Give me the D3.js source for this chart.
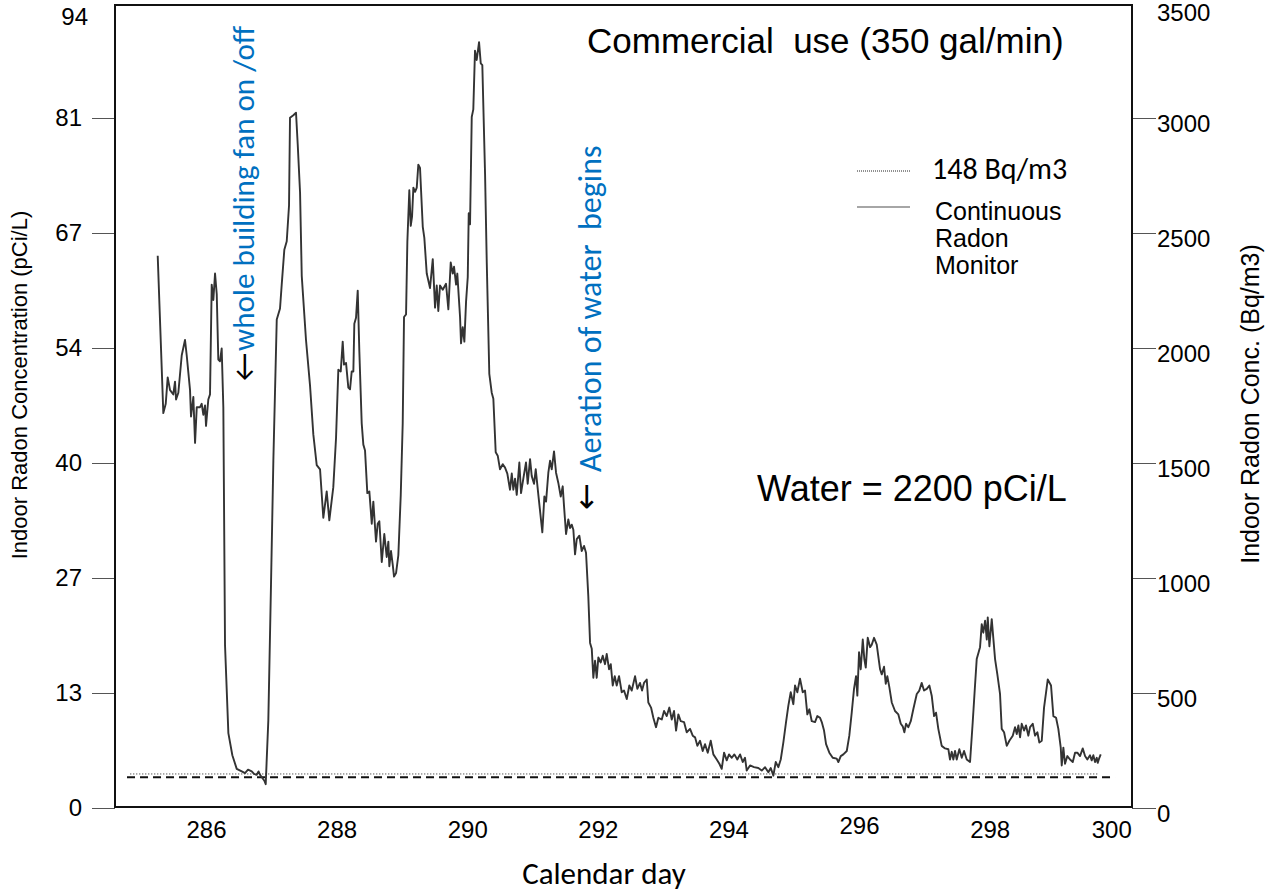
<!DOCTYPE html>
<html>
<head>
<meta charset="utf-8">
<script src="https://cdn.jsdelivr.net/npm/d3@7"></script>
<style>
  body { margin: 0; background: #fff; }
  svg { display: block; background: #fff; }
</style>
</head>
<body>
<svg id="chart" width="1265" height="893"></svg>
<script>
'use strict';

const xTickValues = [286, 288, 290, 292, 294, 296, 298, 300];
const bqTickValues = [0, 500, 1000, 1500, 2000, 2500, 3000, 3500];
const pciTickLabels = ['0', '13', '27', '40', '54', '67', '81', '94'];
const bqTickLabels = ['0', '500', '1000', '1500', '2000', '2500', '3000', '3500'];

// reference lines
const actionLevelBq = 148;
const actionLevelDays = [284.84, 299.66];
const backgroundPci = 3.6;
const backgroundDays = [284.79, 299.92];

// continuous radon monitor: [calendar day, pCi/L]
const crmSeries = [
  [285.260, 64.9], [285.346, 46.4], [285.383, 47.5], [285.413, 50.6], [285.449, 49.1],
  [285.499, 48.6], [285.525, 50.1], [285.541, 48.0], [285.576, 48.8], [285.628, 53.2],
  [285.678, 55.0], [285.704, 53.2], [285.755, 49.1], [285.770, 46.0], [285.806, 48.3],
  [285.832, 42.9], [285.858, 47.1], [285.908, 47.1], [285.934, 47.5], [285.959, 46.2],
  [285.985, 47.3], [286.000, 44.9], [286.035, 48.0], [286.061, 48.6], [286.087, 61.5],
  [286.112, 59.7], [286.138, 62.8], [286.164, 60.4], [286.188, 52.7], [286.214, 52.5],
  [286.240, 54.0], [286.265, 47.1], [286.291, 19.1], [286.342, 8.8], [286.403, 6.2],
  [286.470, 4.6], [286.547, 4.3], [286.597, 4.1], [286.643, 4.5], [286.700, 4.3],
  [286.735, 4.0], [286.776, 3.9], [286.804, 4.3], [286.827, 3.9], [286.893, 3.2],
  [286.914, 2.8], [286.954, 10.3], [286.995, 26.3], [287.031, 40.8], [287.083, 57.4],
  [287.133, 58.7], [287.159, 61.5], [287.199, 65.6], [287.236, 66.6], [287.271, 70.8],
  [287.286, 81.1], [287.337, 81.4], [287.378, 81.7], [287.404, 78.0], [287.440, 72.3],
  [287.466, 62.5], [287.531, 55.0], [287.593, 49.6], [287.643, 43.9], [287.695, 40.3],
  [287.746, 39.8], [287.796, 34.1], [287.848, 37.2], [287.888, 33.8], [287.949, 37.7],
  [287.991, 43.5], [288.026, 51.5], [288.063, 51.3], [288.093, 54.8], [288.113, 52.1],
  [288.144, 52.3], [288.179, 49.4], [288.205, 49.2], [288.231, 51.3], [288.256, 51.3],
  [288.271, 56.9], [288.297, 57.6], [288.323, 60.8], [288.348, 53.6], [288.384, 45.2],
  [288.409, 42.7], [288.435, 42.0], [288.470, 37.0], [288.501, 37.2], [288.538, 33.4],
  [288.562, 36.0], [288.603, 31.3], [288.629, 33.4], [288.654, 33.7], [288.691, 28.9],
  [288.730, 32.2], [288.767, 29.5], [288.792, 31.3], [288.807, 28.4], [288.833, 30.2],
  [288.859, 28.6], [288.879, 27.2], [288.910, 27.6], [288.945, 29.7], [288.982, 36.8],
  [289.012, 45.2], [289.032, 57.7], [289.063, 58.0], [289.083, 66.5], [289.113, 72.6],
  [289.135, 68.4], [289.155, 69.5], [289.175, 72.9], [289.201, 72.4], [289.227, 72.9],
  [289.251, 75.6], [289.277, 75.2], [289.319, 68.3], [289.343, 67.0], [289.380, 62.8],
  [289.430, 61.1], [289.472, 64.5], [289.507, 58.8], [289.533, 61.4], [289.557, 58.4],
  [289.583, 61.4], [289.625, 60.9], [289.675, 61.6], [289.711, 58.6], [289.747, 64.1],
  [289.778, 62.8], [289.798, 63.6], [289.829, 61.5], [289.848, 62.8], [289.890, 57.7],
  [289.905, 54.6], [289.931, 56.5], [289.956, 54.8], [289.982, 59.5], [290.008, 62.4],
  [290.023, 69.9], [290.043, 68.6], [290.069, 81.2], [290.093, 82.1], [290.119, 89.0],
  [290.145, 87.9], [290.181, 90.0], [290.207, 87.5], [290.231, 87.3], [290.273, 74.5],
  [290.299, 64.1], [290.338, 51.0], [290.375, 48.8], [290.400, 48.1], [290.436, 41.8],
  [290.467, 41.4], [290.502, 39.8], [290.544, 40.4], [290.579, 40.0], [290.614, 39.3],
  [290.655, 37.4], [290.682, 39.3], [290.706, 37.4], [290.732, 38.7], [290.758, 36.8],
  [290.798, 40.6], [290.824, 37.0], [290.859, 38.7], [290.900, 40.6], [290.926, 38.1],
  [290.962, 41.0], [290.988, 39.0], [291.023, 38.1], [291.049, 39.8], [291.089, 36.8],
  [291.150, 32.4], [291.181, 36.6], [291.207, 36.0], [291.242, 39.4], [291.268, 40.8],
  [291.294, 39.8], [291.329, 41.9], [291.360, 39.4], [291.395, 38.2], [291.432, 36.6],
  [291.462, 37.8], [291.482, 35.5], [291.513, 32.2], [291.548, 33.9], [291.574, 32.9],
  [291.600, 33.3], [291.625, 32.7], [291.651, 29.8], [291.677, 31.6], [291.717, 32.0],
  [291.753, 30.2], [291.789, 30.8], [291.819, 30.0], [291.854, 24.9], [291.881, 19.4],
  [291.907, 18.7], [291.931, 15.3], [291.957, 17.3], [291.983, 15.3], [292.008, 17.7],
  [292.044, 17.1], [292.075, 17.9], [292.110, 16.9], [292.136, 18.1], [292.172, 16.3],
  [292.198, 16.9], [292.228, 14.4], [292.259, 15.5], [292.289, 14.4], [292.325, 15.5],
  [292.366, 13.6], [292.401, 13.8], [292.443, 12.8], [292.482, 14.4], [292.519, 13.8],
  [292.570, 15.5], [292.605, 14.0], [292.646, 14.7], [292.677, 13.8], [292.707, 14.7],
  [292.749, 15.1], [292.773, 12.4], [292.815, 11.8], [292.850, 10.6], [292.891, 9.5],
  [292.927, 10.6], [292.979, 10.4], [293.014, 11.4], [293.055, 10.8], [293.095, 11.8],
  [293.132, 10.4], [293.167, 11.4], [293.198, 9.1], [293.233, 11.0], [293.270, 10.2],
  [293.320, 10.1], [293.361, 8.9], [293.412, 9.3], [293.453, 8.5], [293.489, 8.3],
  [293.524, 7.3], [293.565, 7.9], [293.606, 6.7], [293.642, 7.5], [293.683, 6.5],
  [293.729, 7.9], [293.769, 6.3], [293.821, 5.7], [293.861, 5.2], [293.897, 4.6],
  [293.933, 6.5], [293.974, 5.6], [294.009, 6.3], [294.051, 5.9], [294.091, 6.3],
  [294.136, 5.7], [294.178, 6.3], [294.219, 5.4], [294.254, 5.9], [294.280, 4.4],
  [294.331, 5.0], [294.392, 4.8], [294.458, 4.7], [294.510, 4.4], [294.561, 4.8],
  [294.611, 4.2], [294.648, 4.7], [294.688, 3.8], [294.724, 5.4], [294.764, 4.8],
  [294.801, 5.7], [294.841, 7.7], [294.882, 10.1], [294.917, 12.0], [294.954, 13.6],
  [294.994, 12.2], [295.020, 14.4], [295.055, 13.6], [295.096, 15.2], [295.138, 13.6],
  [295.173, 13.8], [295.208, 11.0], [295.239, 11.6], [295.276, 10.2], [295.326, 10.1],
  [295.361, 10.8], [295.403, 10.6], [295.429, 10.1], [295.464, 9.1], [295.495, 7.5],
  [295.545, 6.5], [295.597, 5.9], [295.658, 5.8], [295.683, 5.4], [295.720, 6.1],
  [295.760, 6.3], [295.812, 6.7], [295.851, 8.5], [295.888, 11.2], [295.923, 14.0],
  [295.954, 15.5], [295.974, 13.2], [296.000, 18.3], [296.026, 16.3], [296.057, 19.8],
  [296.081, 17.5], [296.103, 16.5], [296.133, 20.0], [296.169, 18.9], [296.195, 19.2],
  [296.230, 20.0], [296.271, 19.2], [296.322, 16.3], [296.348, 15.7], [296.383, 16.6],
  [296.409, 14.6], [296.433, 15.5], [296.464, 14.2], [296.501, 12.4], [296.551, 11.4],
  [296.602, 11.0], [296.639, 9.9], [296.669, 9.6], [296.694, 8.9], [296.720, 9.9],
  [296.755, 9.5], [296.792, 10.2], [296.831, 11.6], [296.884, 13.4], [296.923, 13.8],
  [296.960, 14.7], [296.995, 13.8], [297.037, 14.0], [297.077, 14.4], [297.113, 13.2],
  [297.149, 10.8], [297.179, 11.2], [297.214, 9.3], [297.266, 7.3], [297.317, 7.0],
  [297.368, 6.9], [297.393, 5.7], [297.420, 6.6], [297.444, 5.7], [297.470, 6.7],
  [297.496, 5.7], [297.536, 6.9], [297.573, 5.9], [297.608, 6.7], [297.649, 5.7],
  [297.700, 5.4], [297.741, 10.1], [297.776, 14.4], [297.802, 17.5], [297.853, 18.9],
  [297.879, 21.6], [297.903, 20.6], [297.930, 22.0], [297.956, 19.8], [297.971, 22.4],
  [297.996, 19.0], [298.032, 22.2], [298.083, 17.5], [298.118, 15.7], [298.159, 13.4],
  [298.185, 9.3], [298.221, 8.9], [298.262, 7.3], [298.302, 7.9], [298.354, 8.5],
  [298.389, 9.5], [298.415, 8.7], [298.440, 9.7], [298.466, 8.3], [298.491, 9.9],
  [298.527, 9.1], [298.557, 9.7], [298.593, 8.5], [298.619, 9.5], [298.660, 9.9],
  [298.695, 8.5], [298.731, 8.9], [298.761, 7.7], [298.798, 7.9], [298.833, 11.8],
  [298.864, 13.6], [298.890, 15.1], [298.940, 14.4], [298.976, 10.8], [299.017, 10.6],
  [299.052, 9.3], [299.089, 7.1], [299.104, 5.0], [299.129, 7.1], [299.154, 5.2],
  [299.190, 6.1], [299.231, 5.7], [299.273, 5.4], [299.308, 6.5], [299.343, 6.5],
  [299.384, 6.1], [299.426, 7.0], [299.461, 6.1], [299.496, 5.7], [299.537, 6.2],
  [299.563, 5.6], [299.588, 6.2], [299.614, 5.4], [299.640, 5.9], [299.655, 5.3],
  [299.680, 5.9], [299.701, 6.3],
];

const BQ_PER_PCI = 37;
const ARIAL = "'Liberation Sans', Arial, sans-serif";
const CALIBRI = "Carlito, Lato, 'Open Sans', sans-serif";
const BLUE = '#0070c0';

const frame = { left: 115, right: 1132, top: 5, bottom: 807 };

const svg = d3.select('#chart');

const x = d3.scaleLinear()
  .domain([284.606, 300.18])
  .range([frame.left, frame.right]);

const y = d3.scaleLinear()
  .domain([0, 3500])
  .range([808, 3]);

const plot = svg.append('g');

// background / action level lines
plot.append('line')
  .attr('x1', x(backgroundDays[0]))
  .attr('x2', x(backgroundDays[1]))
  .attr('y1', y(backgroundPci * BQ_PER_PCI))
  .attr('y2', y(backgroundPci * BQ_PER_PCI))
  .attr('stroke', '#111')
  .attr('stroke-width', 2)
  .attr('stroke-dasharray', '8,5');

plot.append('line')
  .attr('x1', x(actionLevelDays[0]))
  .attr('x2', x(actionLevelDays[1]))
  .attr('y1', y(actionLevelBq))
  .attr('y2', y(actionLevelBq))
  .attr('stroke', '#222')
  .attr('stroke-width', 1)
  .attr('stroke-dasharray', '1,2');

const line = d3.line()
  .x(d => x(d[0]))
  .y(d => y(d[1] * BQ_PER_PCI));

plot.append('path')
  .datum(crmSeries)
  .attr('d', line)
  .attr('fill', 'none')
  .attr('stroke', '#333')
  .attr('stroke-width', 1.9)
  .attr('stroke-linejoin', 'round');

// left axis (pCi/L labels on Bq positions)
const leftAxis = svg.append('g')
  .attr('transform', `translate(${frame.left},0)`)
  .call(d3.axisLeft(y)
    .tickValues(bqTickValues)
    .tickSize(23)
    .tickPadding(10)
    .tickFormat((d, i) => pciTickLabels[i]));

const rightAxis = svg.append('g')
  .attr('transform', `translate(${frame.right},0)`)
  .call(d3.axisRight(y)
    .tickValues(bqTickValues)
    .tickSize(24)
    .tickPadding(1)
    .tickFormat((d, i) => bqTickLabels[i]));

for (const axis of [leftAxis, rightAxis]) {
  axis.select('.domain').remove();
  axis.selectAll('.tick line')
    .attr('stroke', '#555')
    .attr('stroke-width', 1);
  axis.selectAll('.tick text')
    .attr('fill', '#000')
    .style('font-family', ARIAL)
    .style('font-size', '24px');
  axis.selectAll('.tick')
    .filter(d => d === 3500)
    .select('line')
    .remove();
}

leftAxis.selectAll('.tick')
  .filter(d => d === 3500)
  .select('text')
  .attr('x', -27)
  .attr('y', 14);

rightAxis.selectAll('.tick text').attr('y', 6);
rightAxis.selectAll('.tick')
  .filter(d => d === 3500)
  .select('text')
  .attr('y', 10);

const bottomAxis = svg.append('g')
  .attr('transform', `translate(0,${frame.bottom})`)
  .call(d3.axisBottom(x)
    .tickValues(xTickValues)
    .tickSize(0)
    .tickPadding(14)
    .tickFormat(d3.format('d')));

bottomAxis.select('.domain').remove();
bottomAxis.selectAll('.tick text')
  .attr('fill', '#000')
  .style('font-family', ARIAL)
  .style('font-size', '24px');
bottomAxis.selectAll('.tick')
  .filter(d => d === 296)
  .select('text')
  .attr('y', 10);
bottomAxis.selectAll('.tick')
  .filter(d => d === 300)
  .select('text')
  .attr('x', -9);

// plot frame
svg.append('rect')
  .attr('x', frame.left)
  .attr('y', frame.top)
  .attr('width', frame.right - frame.left)
  .attr('height', frame.bottom - frame.top)
  .attr('fill', 'none')
  .attr('stroke', '#111')
  .attr('stroke-width', 2);

// axis titles
svg.append('text')
  .attr('transform', 'translate(27,385) rotate(-90)')
  .attr('text-anchor', 'middle')
  .style('font-family', ARIAL)
  .style('font-size', '22px')
  .text('Indoor Radon Concentration (pCi/L)');

svg.append('text')
  .attr('transform', 'translate(1259,404) rotate(-90)')
  .attr('text-anchor', 'middle')
  .style('font-family', ARIAL)
  .style('font-size', '25px')
  .text('Indoor Radon Conc. (Bq/m3)');

svg.append('text')
  .attr('x', 604)
  .attr('y', 884)
  .attr('text-anchor', 'middle')
  .style('font-family', CALIBRI)
  .style('font-size', '31px')
  .text('Calendar day');

// headings inside the plot
svg.append('text')
  .attr('x', 587)
  .attr('y', 53)
  .attr('xml:space', 'preserve')
  .style('font-family', ARIAL)
  .style('font-size', '35px')
  .style('white-space', 'pre')
  .text('Commercial  use (350 gal/min)');

svg.append('text')
  .attr('x', 757)
  .attr('y', 501)
  .style('font-family', ARIAL)
  .style('font-size', '36px')
  .text('Water = 2200 pCi/L');

// legend
const legend = svg.append('g');

legend.append('line')
  .attr('x1', 857).attr('x2', 910)
  .attr('y1', 171).attr('y2', 171)
  .attr('stroke', '#222')
  .attr('stroke-width', 1)
  .attr('stroke-dasharray', '1,1');

legend.append('line')
  .attr('x1', 857).attr('x2', 910)
  .attr('y1', 207).attr('y2', 207)
  .attr('stroke', '#888')
  .attr('stroke-width', 1.5);

legend.append('text')
  .attr('x', 932)
  .attr('y', 179)
  .style('font-family', CALIBRI)
  .style('font-size', '30px')
  .text('148 Bq/m3');

legend.append('text')
  .attr('x', 935)
  .attr('y', 220)
  .style('font-family', ARIAL)
  .style('font-size', '25px')
  .selectAll('tspan')
  .data(['Continuous', 'Radon', 'Monitor'])
  .enter()
  .append('tspan')
    .attr('x', 935)
    .attr('dy', (d, i) => i === 0 ? 0 : 27)
    .text(d => d);

// annotations
const fanNote = svg.append('text')
  .attr('transform', 'translate(254,381) rotate(-90)')
  .style('font-family', CALIBRI)
  .style('font-size', '31px');
fanNote.append('tspan').attr('fill', '#000').text('\u2190');
fanNote.append('tspan').attr('fill', BLUE).attr('dx', 2).text('whole building fan on /off');

svg.append('text')
  .attr('transform', 'translate(601,472) rotate(-90)')
  .attr('fill', BLUE)
  .attr('xml:space', 'preserve')
  .style('font-family', CALIBRI)
  .style('font-size', '32px')
  .style('white-space', 'pre')
  .text('Aeration of water  begins');

svg.append('text')
  .attr('transform', 'translate(597,510) rotate(-90)')
  .attr('fill', '#000')
  .style('font-family', 'DejaVu Sans, sans-serif')
  .style('font-size', '32px')
  .text('\u2190');
</script>
</body>
</html>
